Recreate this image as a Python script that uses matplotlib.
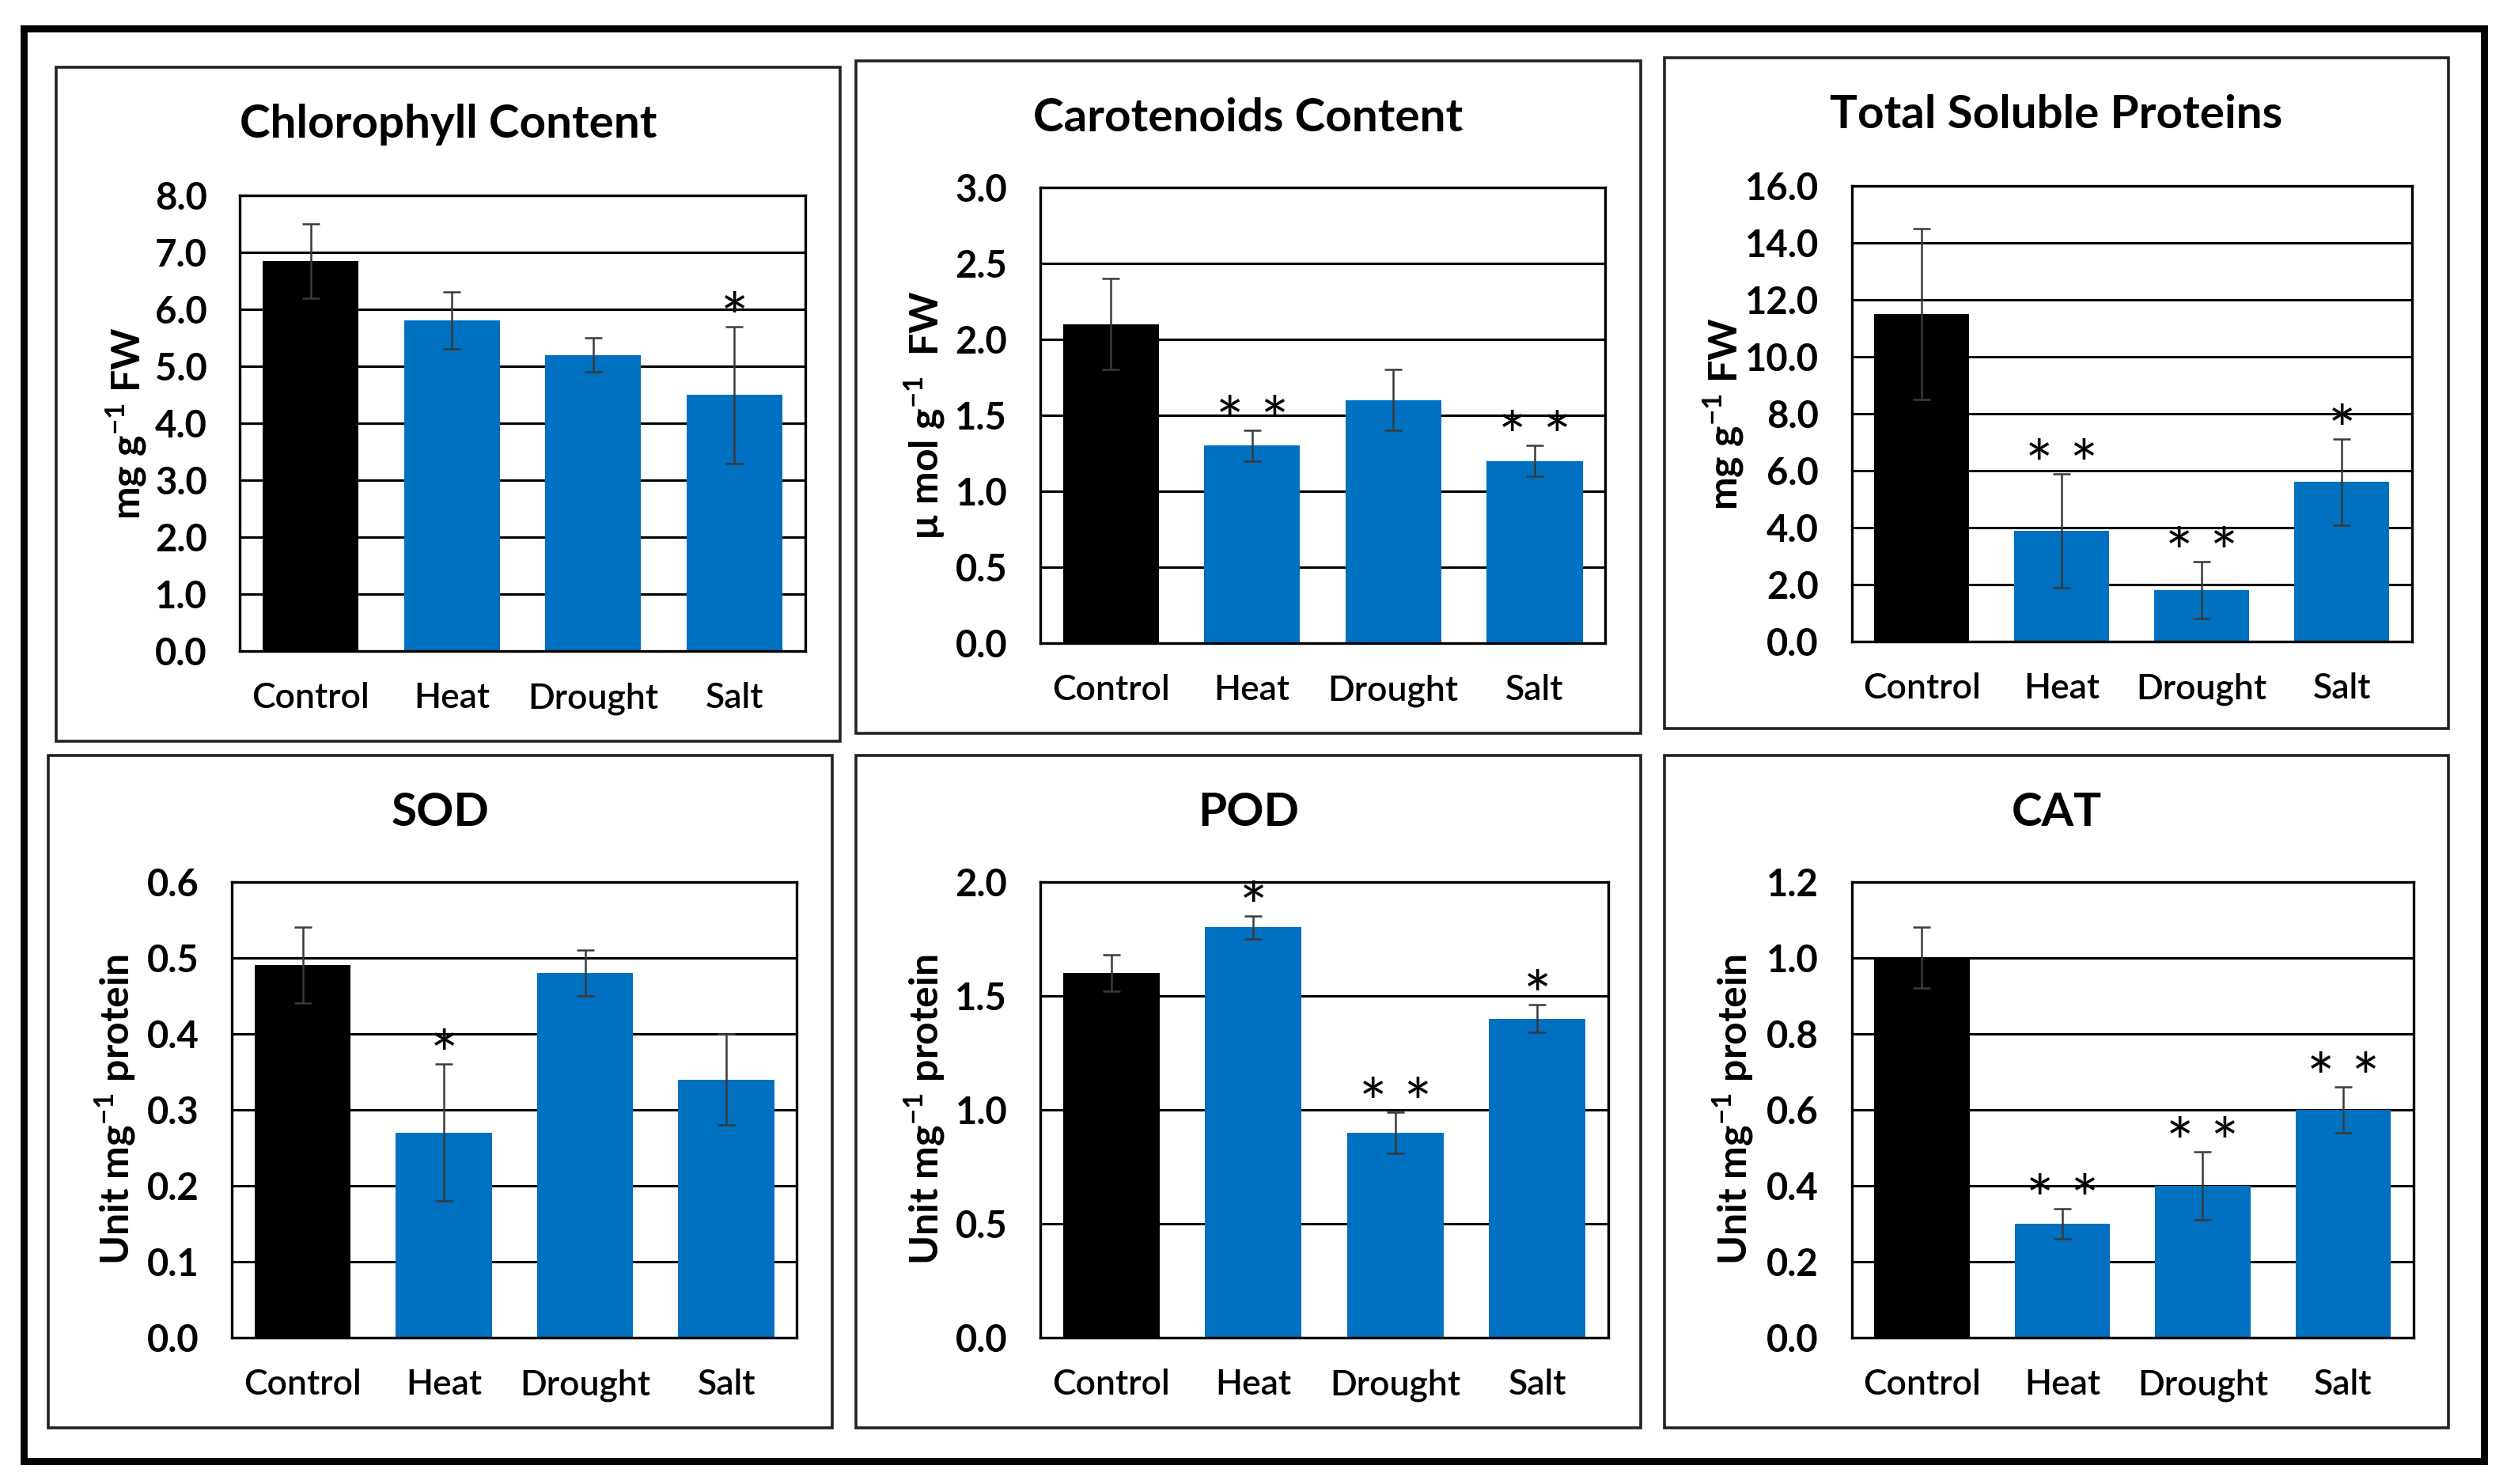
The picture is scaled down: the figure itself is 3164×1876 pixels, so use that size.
import matplotlib.pyplot as plt
from matplotlib.patches import Rectangle
import numpy as np

plt.rcParams['font.family'] = ['Lato', 'DejaVu Sans']
plt.rcParams['mathtext.fontset'] = 'custom'
plt.rcParams['mathtext.rm'] = 'Lato'
plt.rcParams['mathtext.bf'] = 'Lato:bold'

categories = ['Control', 'Heat', 'Drought', 'Salt']
bar_colors = ['black', '#0070C0', '#0070C0', '#0070C0']

titles = ['Chlorophyll Content', 'Carotenoids Content', 'Total Soluble Proteins',
          'SOD', 'POD', 'CAT']
ylabels = [r'mg g$^{\mathbf{-1}}$ FW', r'µ mol g$^{\mathbf{-1}}$  FW', r'mg g$^{\mathbf{-1}}$ FW',
           r'Unit mg$^{\mathbf{-1}}$ protein', r'Unit mg$^{\mathbf{-1}}$ protein',
           r'Unit mg$^{\mathbf{-1}}$ protein']

# values
chl_mean = [6.85, 5.8, 5.2, 4.5]
chl_err = [0.65, 0.5, 0.3, 1.2]
chl_sig = ['', '', '', '*']

car_mean = [2.1, 1.3, 1.6, 1.2]
car_err = [0.3, 0.1, 0.2, 0.1]
car_sig = ['', '**', '', '**']

tsp_mean = [11.5, 3.9, 1.8, 5.6]
tsp_err = [3.0, 2.0, 1.0, 1.5]
tsp_sig = ['', '**', '**', '*']

sod_mean = [0.49, 0.27, 0.48, 0.34]
sod_err = [0.05, 0.09, 0.03, 0.06]
sod_sig = ['', '*', '', '']

pod_mean = [1.6, 1.8, 0.9, 1.4]
pod_err = [0.08, 0.05, 0.09, 0.06]
pod_sig = ['', '*', '**', '*']

cat_mean = [1.0, 0.3, 0.4, 0.6]
cat_err = [0.08, 0.04, 0.09, 0.06]
cat_sig = ['', '**', '**', '**']

y_max = [8.0, 3.0, 16.0, 0.6, 2.0, 1.2]
y_step = [1.0, 0.5, 2.0, 0.1, 0.5, 0.2]

means = [chl_mean, car_mean, tsp_mean, sod_mean, pod_mean, cat_mean]
errs = [chl_err, car_err, tsp_err, sod_err, pod_err, cat_err]
sigs = [chl_sig, car_sig, tsp_sig, sod_sig, pod_sig, cat_sig]

# layout in reference pixels (1564 x 927 view)
W, H = 1564.0, 927.3
panel_boxes = [(35, 42, 525, 463), (535, 38, 1025, 458), (1040, 36, 1530, 455),
               (30, 472, 520, 892), (535, 472, 1025, 892), (1040, 472, 1530, 892)]
axes_boxes = [(150, 122, 503, 407), (650, 117, 1003, 402), (1157, 116, 1507, 401),
              (145, 551, 498, 836), (650, 551, 1005, 836), (1157, 551, 1508, 836)]
label_offsets = [71, 72, 80, 73, 72, 74]


def to_fig(x0, y0, x1, y1):
    return [x0 / W, 1 - y1 / H, (x1 - x0) / W, (y1 - y0) / H]


fig = plt.figure(figsize=(15.82, 9.38), dpi=200)

# outer frame
l, b, w, h = to_fig(15, 18, 1552, 913)
fig.add_artist(Rectangle((l, b), w, h, transform=fig.transFigure, fill=False,
                         lw=3.2, ec='black'))

x = np.arange(len(categories))
for i in range(6):
    pl, pb, pw, ph = to_fig(*panel_boxes[i])
    fig.add_artist(Rectangle((pl, pb), pw, ph, transform=fig.transFigure, fill=False,
                             lw=1.3, ec='#222222'))
    fig.text(pl + pw / 2, 1 - (panel_boxes[i][1] + 36) / H, titles[i],
             ha='center', va='center', fontsize=21, fontweight='bold')

    ax = fig.add_axes(to_fig(*axes_boxes[i]))
    ax.bar(x, means[i], width=0.68, color=bar_colors, zorder=2)
    ax.errorbar(x, means[i], yerr=errs[i], fmt='none', ecolor='#3a3a3a',
                elinewidth=0.9, capsize=4, capthick=0.9, zorder=3)
    for xi, m, e, s in zip(x, means[i], errs[i], sigs[i]):
        if s:
            ax.annotate(' '.join(s), (xi, m + e), xytext=(0, -6.5), textcoords='offset points',
                        ha='center', va='baseline', fontsize=30, zorder=4)

    ticks = np.arange(0, y_max[i] + y_step[i] / 2, y_step[i])
    ax.set_ylim(0, y_max[i])
    ax.set_yticks(ticks)
    ax.set_yticklabels(['%.1f' % t for t in ticks], fontsize=17, fontweight='bold')
    ax.set_xlim(-0.5, 3.5)
    ax.set_xticks(x)
    ax.set_xticklabels(categories, fontsize=16, fontweight='semibold')
    ax.tick_params(axis='y', length=0, pad=15)
    ax.tick_params(axis='x', length=0, pad=14)
    ax.yaxis.grid(True, color='black', lw=1.1)
    ax.set_axisbelow(True)
    for sp in ax.spines.values():
        sp.set_linewidth(1.2)
        sp.set_color('black')
        sp.set_zorder(5)
    ax.set_ylabel(ylabels[i], fontsize=18, fontweight='bold')
    ax.yaxis.set_label_coords(-float(label_offsets[i]) / (axes_boxes[i][2] - axes_boxes[i][0]), 0.5)
    ax.yaxis.label.set_verticalalignment('center')

fig.savefig('out.png', dpi=200)
